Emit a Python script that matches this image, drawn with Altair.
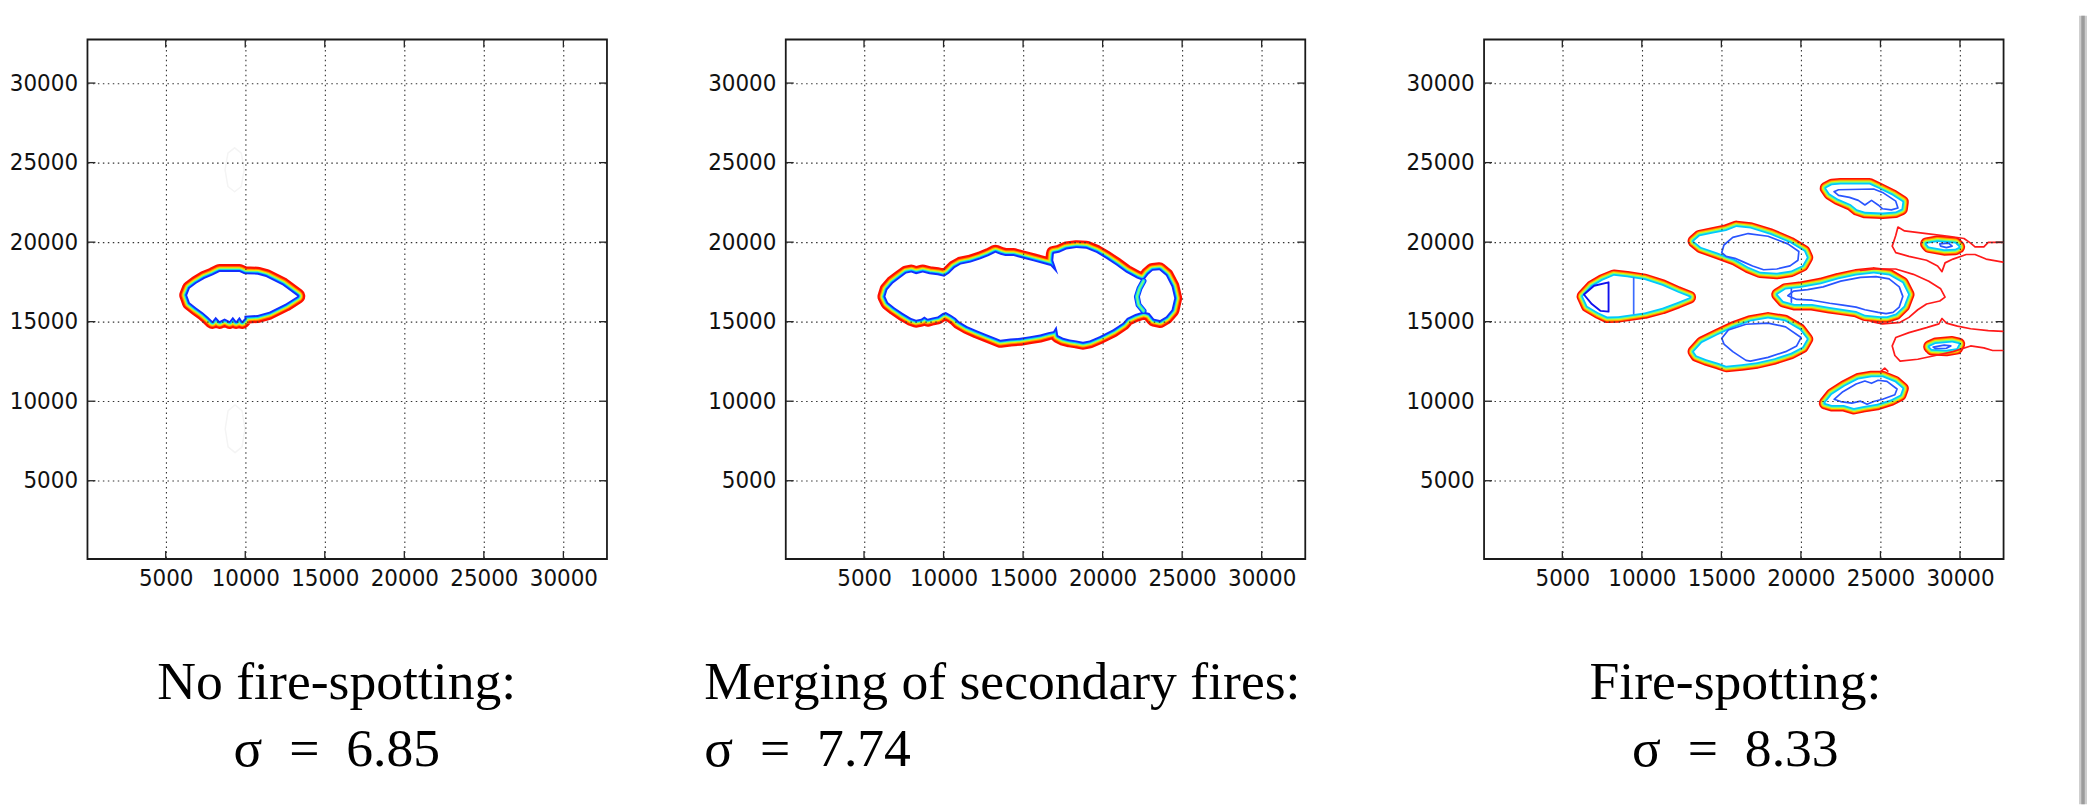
import altair as alt
import pandas as pd

# ---------------- data (metres) ----------------
TICKS = [5000, 10000, 15000, 20000, 25000, 30000]
DOM = [80, 32740]

TITLES = ["No fire-spotting:", "Merging of secondary fires:", "Fire-spotting:"]
SIGMAS = ["σ\u2002=\u20026.85", "σ\u2002=\u20027.74", "σ\u2002=\u20028.33"]

LEVEL_COLORS = ["#ff1000", "#ff8000", "#f5e800", "#70ff85", "#00c8ff", "#1030ff"]

# Panel 1: single front (inner edge of the contour band)
P1_FIRE_X = [6348, 6516, 6934, 7452, 7970, 8388, 9636, 9948, 10778, 11302, 12338, 13274, 12550, 11508,
             10778, 9948, 9948, 9805, 9636, 9430, 9218, 9012, 8700, 8388, 8139, 7933, 7658, 7346, 6934, 6516]
P1_FIRE_Y = [16669, 17081, 17394, 17706, 17919, 18125, 18125, 17981, 17956, 17813, 17294, 16606, 16144, 15625,
             15419, 15375, 15206, 15044, 15313, 15044, 15313, 15044, 15206, 15044, 15313, 15044, 15313, 15581, 15875, 16206]
P1_GHOST_A_X = [9330, 9750, 9930, 9750, 9330, 8910, 8730, 8910]
P1_GHOST_A_Y = [25930, 25600, 24550, 23500, 23170, 23500, 24550, 25600]
P1_GHOST_B_X = [9360, 9800, 9980, 9800, 9360, 8920, 8740, 8920]
P1_GHOST_B_Y = [9765, 9400, 8265, 7130, 6765, 7130, 8265, 9400]

# Panel 2: merged front
P2_FIRE_X = [6344, 6469, 6822, 7238, 7653, 7965, 8276, 8691, 9107, 9626, 10042, 10353, 10706, 11080, 11703,
             12326, 12845, 13261, 13572, 13884, 14403, 15026, 15649, 16273, 16729, 17207, 16896, 16937, 17270,
             17726, 18350, 18973, 19596, 20219, 20842, 21465,
             22155, 22570, 22881, 23151, 23567, 23982, 24335, 24502, 24335, 23982, 23608, 23235, 22944, 22570,
             22051, 21531,
             21257, 20634, 19803, 19180, 18765, 18350, 17934, 17519, 17207, 17103, 16896, 16584, 16065, 15442,
             14819, 14196, 13572, 13261, 12742, 12119, 11495, 10976, 10768, 10457, 10145, 9938, 9626, 9315, 9003,
             8795, 8588, 8276, 7965, 7445, 6926, 6511]
P2_FIRE_Y = [16576, 16991, 17406, 17718, 18029, 18091, 17987, 18091, 17987, 17925, 17821, 18029, 18382, 18589,
             18714, 18921, 19129, 19336, 19212, 19129, 19129, 18963, 18797, 18631, 18506, 17967, 18859, 19274,
             19336, 19544, 19627, 19585, 19336, 18963, 18548, 18091,
             17718, 17552, 17967, 18195, 18236, 17884, 17199, 16473, 15746, 15331, 15103, 15186, 15539, 15643,
             15477, 15228,
             14916, 14501, 14086, 13817, 13734, 13817, 13879, 13983, 14149, 14750, 14398, 14335, 14190, 14086,
             13983, 13941, 13858, 13983, 14190, 14439, 14709, 15020, 15228, 15435, 15601, 15539, 15331, 15269,
             15186, 15331, 15186, 15124, 15228, 15539, 15891, 16224]
P2_NECK_X = [22570, 22321, 22155, 22258, 22570]
P2_NECK_Y = [17552, 17095, 16576, 16058, 15684]

# Panel 3: spotting fires (band edges, inner contours, outer red contours)
P3_A_X = [6301, 6855, 7547, 8240, 9070, 10178, 11286, 12255, 13002, 12255, 11286, 10178, 8517, 7824, 7271, 6578]
P3_A_Y = [16588, 17187, 17594, 17881, 17785, 17618, 17259, 16828, 16540, 16229, 15870, 15582, 15343, 15319, 15582, 15989]
P3_B_X = [13279, 13639, 14470, 15301, 15938, 16824, 18070, 19316, 20202, 20368, 20091, 19399, 18485, 17433, 16685, 15855, 14747, 13722]
P3_B_Y = [20061, 20372, 20540, 20707, 20947, 20851, 20468, 19941, 19414, 19031, 18552, 18217, 18073, 18145, 18456, 18935, 19342, 19702]
P3_C_X = [13279, 13778, 14747, 15771, 16824, 17931, 18983, 19925, 20368, 20091, 19371, 18347, 17239, 16270, 15301, 14830, 14055, 13445]
P3_C_Y = [13115, 13666, 14145, 14624, 15007, 15199, 15031, 14480, 13906, 13427, 13043, 12708, 12445, 12325, 12229, 12397, 12636, 12876]
P3_D_X = [18540, 19039, 19925, 21254, 22362, 23469, 24577, 25546, 26377, 26737, 26460, 25961, 25408, 24992, 24023, 23469, 22639, 21808, 20700, 19593, 18900]
P3_D_Y = [16708, 17019, 17115, 17354, 17666, 17905, 18025, 17905, 17426, 16708, 15989, 15510, 15343, 15343, 15439, 15678, 15798, 15917, 16109, 16109, 16301]
P3_E_X = [21586, 21946, 22500, 24300, 24854, 25740, 26377, 26321, 25961, 25131, 24023, 23525, 23137, 22306, 21808]
P3_E_Y = [23390, 23581, 23629, 23629, 23366, 22935, 22528, 22097, 21929, 21857, 21905, 22072, 22384, 22743, 23055]
P3_F_X = [21531, 21946, 22777, 23608, 24438, 25131, 25906, 26377, 26238, 25685, 24798, 23884, 23330, 22694, 21946]
P3_F_Y = [9882, 10409, 10936, 11367, 11511, 11511, 11199, 10792, 10409, 10122, 9834, 9690, 9570, 9762, 9762]
P3_G_X = [27900, 28592, 29700, 29921, 29700, 29008, 28038]
P3_G_Y = [19893, 20013, 19917, 19702, 19582, 19558, 19726]
P3_H_X = [28093, 28453, 29506, 29921, 29783, 29146, 28232]
P3_H_Y = [13427, 13594, 13690, 13594, 13331, 13235, 13283]

P3_A_IN_X = [6357, 6994, 7907, 7907, 7409, 6855]
P3_A_IN_Y = [16708, 17259, 17474, 15630, 15678, 16109]
P3_A_CUT_X = [9486, 9486]
P3_A_CUT_Y = [17738, 15510]
P3_B_IN_X = [15024, 15162, 15716, 16685, 17931, 19177, 19870, 19814, 19316, 18485, 17654, 16962, 16408, 15855, 15301]
P3_B_IN_Y = [19342, 19821, 20300, 20540, 20372, 19893, 19414, 18863, 18504, 18313, 18265, 18504, 18744, 18983, 19103]
P3_C_IN_X = [15024, 15439, 16547, 17931, 19039, 20008, 19731, 19039, 17931, 16824, 16547, 15716, 15162]
P3_C_IN_Y = [13954, 14480, 14840, 14912, 14672, 14001, 13475, 13115, 12756, 12517, 12565, 13115, 13594]
P3_D_IN_X = [19177, 19537, 20423, 21392, 22500, 23746, 24715, 25546, 26183, 26405, 26183, 25795, 25352, 24854, 24023, 23469, 22639, 21808, 20700, 19731]
P3_D_IN_Y = [16636, 16923, 17019, 17187, 17546, 17786, 17834, 17690, 17187, 16588, 15917, 15582, 15510, 15582, 15750, 15917, 16037, 16157, 16349, 16397]
P3_D_CUT_X = [19400, 19400]
P3_D_CUT_Y = [17050, 16230]
P3_E_IN_X = [22085, 22362, 24577, 25131, 25961, 26100, 25685, 25131, 24854, 24438, 24023, 23608, 23054, 22362]
P3_E_IN_Y = [23174, 23294, 23342, 23126, 22576, 22144, 22025, 22097, 22336, 22623, 22336, 22623, 22815, 22935]
P3_F_IN_X = [22085, 22639, 23469, 24023, 24438, 24854, 25408, 26045, 25906, 25131, 24577, 24162, 23746, 23192, 22500]
P3_F_IN_Y = [10122, 10601, 11080, 11271, 11127, 11319, 11247, 10768, 10409, 10122, 9978, 9810, 10002, 9882, 9978]
P3_G_IN_X = [28730, 29284, 29506, 29146, 28786]
P3_G_IN_Y = [19893, 19941, 19750, 19654, 19750]
P3_H_IN_X = [28315, 29008, 29423, 29146, 28453]
P3_H_IN_Y = [13403, 13522, 13475, 13331, 13307]

P3_W1_X = [32700, 31776, 31500, 30946, 30669, 30254, 29284, 27900, 26515, 26100, 25961, 25740, 25961, 26792,
           27900, 28592, 28869, 29063, 29561, 30392, 30946, 31638, 32700]
P3_W1_Y = [19989, 19989, 19702, 19702, 19941, 20228, 20372, 20540, 20707, 20947, 20420, 19749, 19342, 19103,
           18863, 18504, 18145, 18696, 18935, 19222, 19222, 18935, 18744]
P3_W2_X = [23746, 24577, 25961, 27069, 28038, 28786, 29063, 28730, 27900, 27346, 26792, 26238, 25131, 24438]
P3_W2_Y = [18216, 18313, 18313, 17977, 17546, 17067, 16540, 16301, 16109, 15750, 15271, 14960, 14864, 15007]
P3_W3_X = [32700, 31776, 30669, 29838, 29146, 28869, 28675, 27900, 26792, 25961, 25740, 25906, 26238, 27346,
           28453, 29561, 30669, 31500, 32054, 32700]
P3_W3_Y = [14385, 14433, 14553, 14720, 14912, 15199, 14864, 14624, 14313, 14001, 13475, 12876, 12517, 12636,
           12876, 13115, 13475, 13354, 13187, 13187]
P3_SPIKE_X = [24992, 25269, 25463]
P3_SPIKE_Y = [11846, 12086, 11894]

# ---------------- helpers ----------------
W, H = 523, 523
LABEL_FONT = "DejaVu Sans Condensed, Liberation Sans, DejaVu Sans"


def ring(name, xs, ys, closed=True):
    xs, ys = list(xs), list(ys)
    if closed:
        xs, ys = xs + xs[:1], ys + ys[:1]
    return pd.DataFrame({"shape": name, "i": list(range(len(xs))), "x": xs, "y": ys})


def axis(orient):
    return alt.Axis(values=TICKS, format="d", title=None, grid=True, ticks=False, domain=False,
                    labelPadding=10 if orient == "y" else 8, labelFontSize=24, labelFont=LABEL_FONT,
                    labelColor="#111", gridColor="#333", gridDash=[1.5, 3.5], gridWidth=1.1,
                    gridOpacity=1, zindex=1, labelFlush=False)


def xenc():
    return alt.X("x:Q", scale=alt.Scale(domain=DOM, nice=False, zero=False), axis=axis("x"))


def yenc():
    return alt.Y("y:Q", scale=alt.Scale(domain=DOM, nice=False, zero=False), axis=axis("y"))


def lines(df, color, width, opacity=1.0):
    return alt.Chart(df).mark_line(color=color, strokeWidth=width, strokeJoin="round", strokeCap="round",
                                   clip=True, opacity=opacity).encode(
        x=xenc(), y=yenc(), detail="shape:N", order="i:Q")


def frame_ticks():
    tx = pd.DataFrame({"x": TICKS})
    ty = pd.DataFrame({"y": TICKS})
    out = []
    for a, b in [(H, H - 8), (0, 8)]:
        out.append(alt.Chart(tx).mark_rule(color="#222", strokeWidth=1.3).encode(
            x=xenc(), y=alt.value(a), y2=alt.value(b)))
    for a, b in [(0, 8), (W, W - 8)]:
        out.append(alt.Chart(ty).mark_rule(color="#222", strokeWidth=1.3).encode(
            y=yenc(), x=alt.value(a), x2=alt.value(b)))
    return out


def caption(k, xpos, align):
    out = []
    for txt, ypos in [(TITLES[k], 664), (SIGMAS[k], 731)]:
        out.append(alt.Chart(pd.DataFrame({"t": [txt]})).mark_text(
            font="Liberation Serif", fontSize=54, align=align, baseline="alphabetic", color="#000").encode(
            text="t:N", x=alt.value(xpos), y=alt.value(ypos)))
    return out


def panel(bands, widths, colors, inner=(), extra=(), cap=None):
    band_df = pd.concat(bands, ignore_index=True)
    layers = [lines(band_df, c, w) for c, w in zip(colors, widths)]
    layers.append(alt.Chart(band_df).mark_line(filled=True, color="white", clip=True).encode(
        x=xenc(), y=yenc(), detail="shape:N", order="i:Q"))
    layers += list(inner)
    layers += list(extra)
    layers += frame_ticks()
    layers += cap
    return alt.layer(*layers).properties(width=W, height=H)


WIDE = [16, 11.5, 9.5, 7.5, 5.6, 3.8]

# ---------------- panels ----------------
p1 = panel(
    [ring("f", P1_FIRE_X, P1_FIRE_Y)],
    WIDE, LEVEL_COLORS,
    inner=[lines(pd.concat([ring("ga", P1_GHOST_A_X, P1_GHOST_A_Y),
                            ring("gb", P1_GHOST_B_X, P1_GHOST_B_Y)]), "#f4f4f4", 1.5)],
    cap=caption(0, 251, "center"))

p2 = panel(
    [ring("f", P2_FIRE_X, P2_FIRE_Y)],
    WIDE, LEVEL_COLORS,
    inner=[lines(ring("n", P2_NECK_X, P2_NECK_Y, False), "#1030ff", 6),
           lines(ring("n", P2_NECK_X, P2_NECK_Y, False), "#00c8ff", 4),
           lines(ring("n", P2_NECK_X, P2_NECK_Y, False), "#70ff85", 2)],
    cap=caption(1, -82, "left"))

bands3 = [ring("a", P3_A_X, P3_A_Y), ring("b", P3_B_X, P3_B_Y), ring("c", P3_C_X, P3_C_Y),
          ring("d", P3_D_X, P3_D_Y), ring("e", P3_E_X, P3_E_Y), ring("f", P3_F_X, P3_F_Y),
          ring("g", P3_G_X, P3_G_Y), ring("h", P3_H_X, P3_H_Y)]
inner3 = pd.concat([ring("b", P3_B_IN_X, P3_B_IN_Y), ring("c", P3_C_IN_X, P3_C_IN_Y),
                    ring("d", P3_D_IN_X, P3_D_IN_Y), ring("e", P3_E_IN_X, P3_E_IN_Y),
                    ring("f", P3_F_IN_X, P3_F_IN_Y), ring("g", P3_G_IN_X, P3_G_IN_Y),
                    ring("h", P3_H_IN_X, P3_H_IN_Y), ring("dc", P3_D_CUT_X, P3_D_CUT_Y, False)],
                   ignore_index=True)
reds3 = pd.concat([ring("w1", P3_W1_X, P3_W1_Y, False), ring("w2", P3_W2_X, P3_W2_Y, False),
                   ring("w3", P3_W3_X, P3_W3_Y, False), ring("sp", P3_SPIKE_X, P3_SPIKE_Y, False)],
                  ignore_index=True)
strip_df = pd.DataFrame({"k": [0]})
strip_outer = alt.Chart(strip_df).mark_rule(color="#cdcdcd", strokeWidth=8).encode(
    x=alt.value(603), y=alt.value(-24), y2=alt.value(770))
strip_inner = alt.Chart(strip_df).mark_rule(color="#9c9c9c", strokeWidth=3.5).encode(
    x=alt.value(603), y=alt.value(-24), y2=alt.value(770))

p3 = panel(
    bands3, [13, 10, 8, 6, 3.6], LEVEL_COLORS[:5],
    inner=[lines(inner3, "#2a55ff", 1.7),
           lines(ring("ai", P3_A_IN_X, P3_A_IN_Y), "#1010ee", 1.9),
           lines(ring("ac", P3_A_CUT_X, P3_A_CUT_Y, False), "#3a6bff", 1.7)],
    extra=[lines(reds3, "#ff1a1a", 1.7), strip_outer, strip_inner],
    cap=caption(2, 253, "center"))

chart = alt.hconcat(p1, p2, p3, spacing=180, bounds="flush").properties(
    padding={"left": 0, "top": 0, "right": 0, "bottom": 0}
).configure_view(stroke="#1a1a1a", strokeWidth=1.8)

chart.save("out.html", embed_options={"renderer": "svg", "actions": False})
